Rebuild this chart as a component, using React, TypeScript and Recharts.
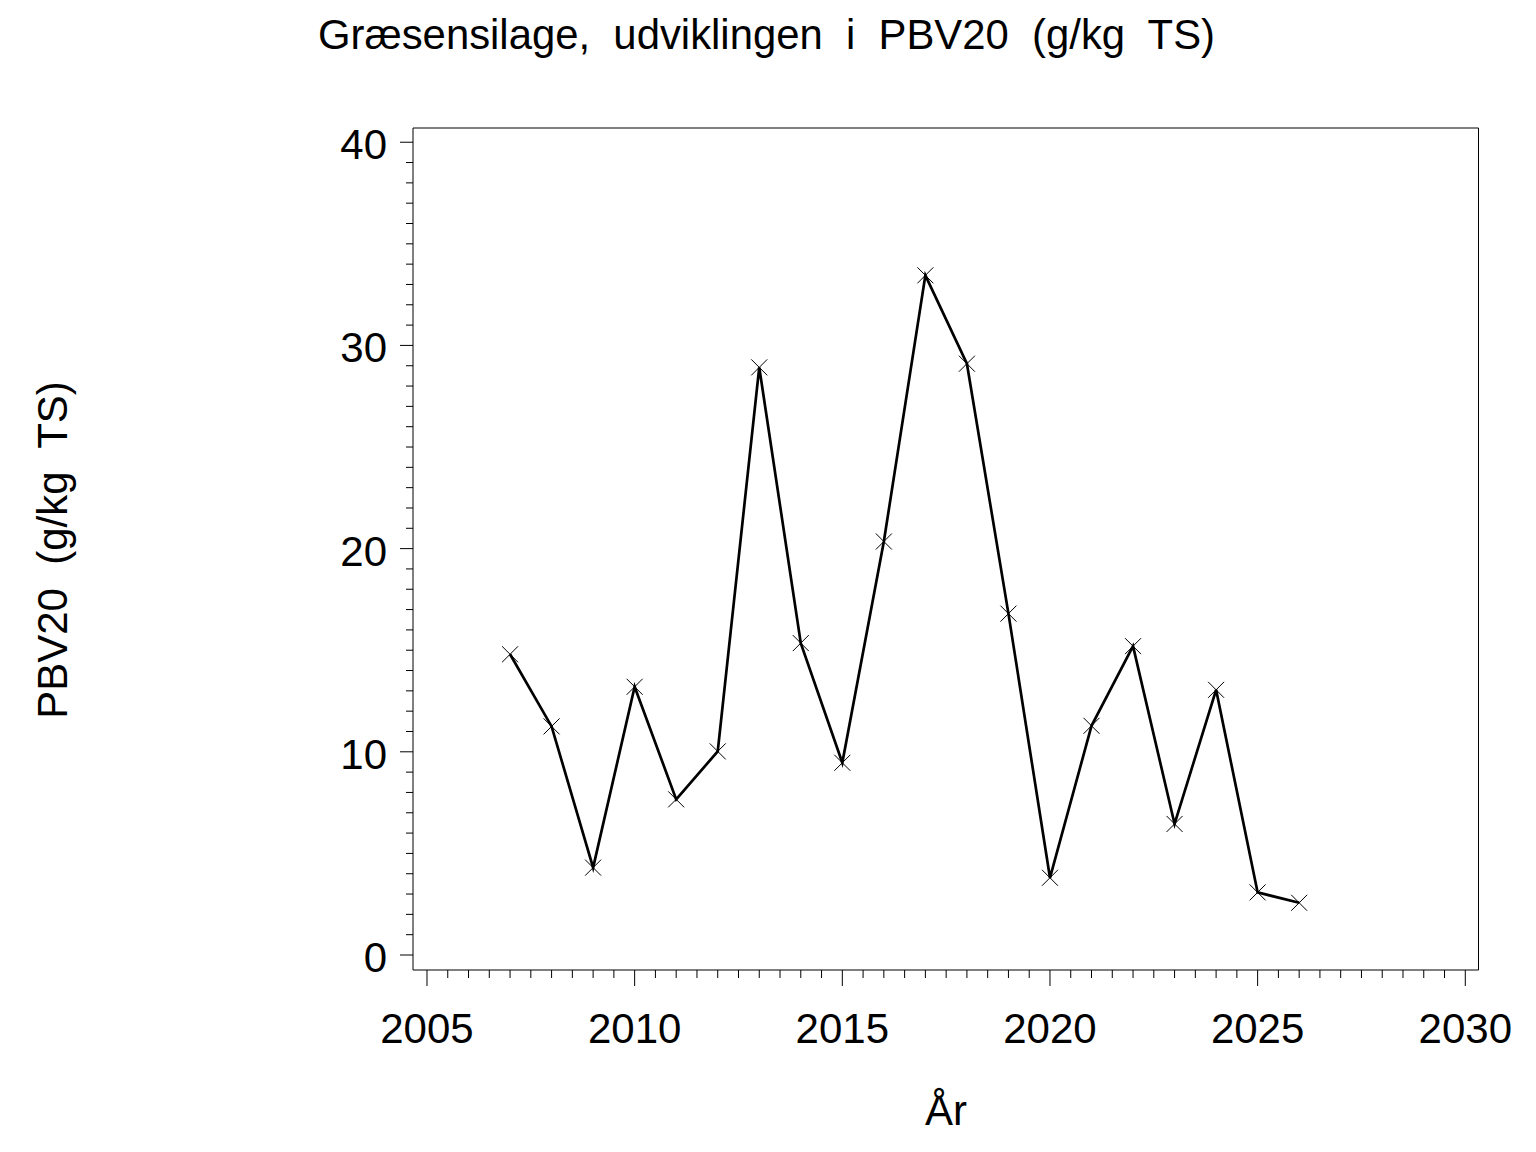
import { LineChart, Line, XAxis, YAxis } from "recharts";

// PBV20 in grass silage, per year (g/kg TS)
const years = [2007, 2008, 2009, 2010, 2011, 2012, 2013, 2014, 2015, 2016, 2017, 2018, 2019, 2020, 2021, 2022, 2023, 2024, 2025, 2026];
const pbv20 = [14.8, 11.25, 4.3, 13.2, 7.66, 10.02, 28.92, 15.35, 9.46, 20.35, 33.45, 29.1, 16.8, 3.8, 11.28, 15.2, 6.45, 13.05, 3.08, 2.57];

const xMajorTicks = [2005, 2010, 2015, 2020, 2025, 2030];
const yMajorTicks = [0, 10, 20, 30, 40];

// minor ticks: every half year on x, every unit on y
const xTicks: number[] = [];
for (let t = 2005; t <= 2030; t += 0.5) xTicks.push(t);
const yTicks: number[] = [];
for (let t = 0; t <= 40; t += 1) yTicks.push(t);

const data = years.map((year, i) => ({ year, value: pbv20[i] }));

const FONT = '"Liberation Sans", Arial, Helvetica, sans-serif';
const X_DOMAIN: [number, number] = [2004.663, 2030.318];
const Y_DOMAIN: [number, number] = [-0.738, 40.7];

function XTick(props: any) {
  const { x, y, payload } = props;
  const major = xMajorTicks.includes(payload.value);
  return (
    <g>
      <line x1={x} x2={x} y1={y} y2={y + (major ? 16 : 8)} stroke="#000" strokeWidth={1} />
      {major && (
        <text x={x} y={y + 73} textAnchor="middle" fontSize={42} fontFamily={FONT} fill="#000">
          {payload.value}
        </text>
      )}
    </g>
  );
}

function YTick(props: any) {
  const { x, y, payload } = props;
  const major = yMajorTicks.includes(payload.value);
  return (
    <g>
      <line x1={x - (major ? 13 : 7)} x2={x} y1={y} y2={y} stroke="#000" strokeWidth={1} />
      {major && (
        <text x={x - 26} y={y + 17} textAnchor="end" fontSize={42} fontFamily={FONT} fill="#000">
          {payload.value}
        </text>
      )}
    </g>
  );
}

function CrossDot(props: any) {
  const { cx, cy } = props;
  const s = 8;
  return (
    <path
      d={`M${cx - s},${cy - s}L${cx + s},${cy + s}M${cx - s},${cy + s}L${cx + s},${cy - s}`}
      stroke="#000"
      strokeWidth={1}
      fill="none"
    />
  );
}

export default function App() {
  return (
    <div style={{ position: "absolute", left: 0, top: 0, width: 1536, height: 1152, background: "#fff" }}>
      <LineChart
        width={1536}
        height={1152}
        data={data}
        margin={{ top: 127, right: 56.5, bottom: 181, left: 412 }}
      >
        <XAxis
          dataKey="year"
          type="number"
          domain={X_DOMAIN}
          allowDataOverflow
          ticks={xTicks}
          interval={0}
          height={1}
          tickSize={0}
          tickMargin={0}
          tickLine={false}
          axisLine={{ stroke: "#000", strokeWidth: 1 }}
          tick={<XTick />}
        />
        <XAxis
          xAxisId="top"
          orientation="top"
          type="number"
          domain={X_DOMAIN}
          allowDataOverflow
          height={1}
          tick={false}
          tickLine={false}
          axisLine={{ stroke: "#000", strokeWidth: 1 }}
        />
        <YAxis
          type="number"
          domain={Y_DOMAIN}
          allowDataOverflow
          ticks={yTicks}
          interval={0}
          width={1}
          tickSize={0}
          tickMargin={0}
          tickLine={false}
          axisLine={{ stroke: "#000", strokeWidth: 1 }}
          tick={<YTick />}
        />
        <YAxis
          yAxisId="right"
          orientation="right"
          type="number"
          domain={Y_DOMAIN}
          allowDataOverflow
          width={1}
          tick={false}
          tickLine={false}
          axisLine={{ stroke: "#000", strokeWidth: 1 }}
        />
        <Line
          dataKey="value"
          stroke="#000"
          strokeWidth={2.7}
          dot={(p: any) => <CrossDot {...p} key={p.index} />}
          activeDot={false}
          isAnimationActive={false}
        />
      </LineChart>
      <svg
        width={1536}
        height={1152}
        style={{ position: "absolute", left: 0, top: 0, pointerEvents: "none" }}
      >
        <text
          x={318}
          y={49}
          fontSize={42}
          fontFamily={FONT}
          fill="#000"
          textLength={897}
          lengthAdjust="spacingAndGlyphs"
          style={{ whiteSpace: "pre" }}
        >
          {"Græsensilage,  udviklingen  i  PBV20  (g/kg  TS)"}
        </text>
        <text x={946} y={1125} textAnchor="middle" fontSize={42} fontFamily={FONT} fill="#000">
          År
        </text>
        <text
          x={67}
          y={550}
          transform="rotate(-90 67 550)"
          textAnchor="middle"
          fontSize={42}
          fontFamily={FONT}
          fill="#000"
          style={{ whiteSpace: "pre" }}
        >
          {"PBV20  (g/kg  TS)"}
        </text>
      </svg>
    </div>
  );
}
